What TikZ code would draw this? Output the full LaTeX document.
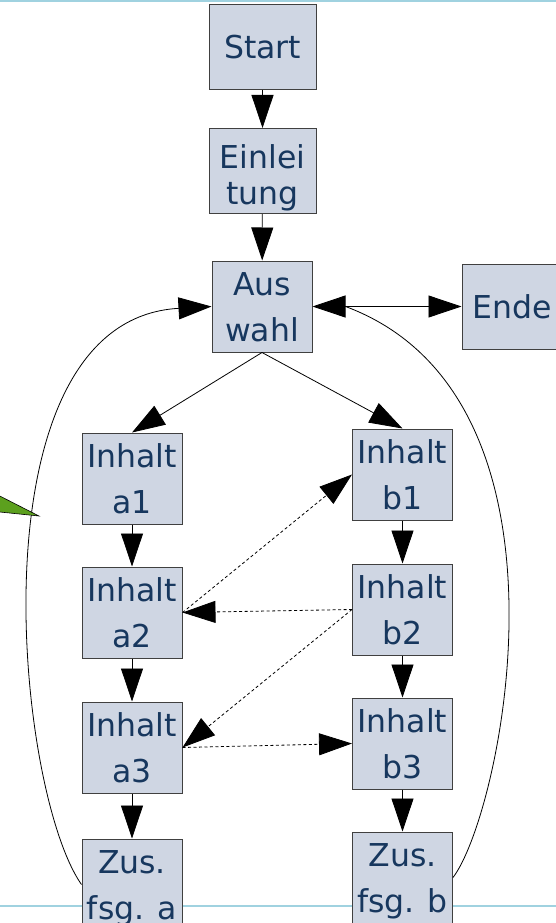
\documentclass[tikz,border=0pt]{standalone}
\usepackage{fontspec}
\setmainfont{DejaVu Sans}
\usetikzlibrary{arrows.meta}
\definecolor{boxfill}{HTML}{CFD6E3}
\definecolor{boxtext}{HTML}{17375E}
\definecolor{boxline}{HTML}{404040}
\definecolor{guide}{HTML}{A0D2E0}
\definecolor{tailgreen}{HTML}{5CA01E}
\newcommand\lnA{\rule[-11pt]{0pt}{45.5pt}}
\newcommand\lnB{\rule[-3pt]{0pt}{36pt}}
\newcommand\lnC{\rule[-3pt]{0pt}{40.4pt}}
\begin{document}
\begin{tikzpicture}[x=1pt,y=-1pt,
  box/.style={draw=boxline,line width=1pt,fill=boxfill,text=boxtext,
    minimum width=100pt,minimum height=85pt,inner sep=0pt,align=center,
    font=\fontsize{31.5}{45.5}\selectfont},
  widebox/.style={minimum width=107pt},
  conn/.style={line width=0.8pt,-{Triangle[length=33pt,width=22pt]}},
  dconn/.style={conn,dash pattern=on 3pt off 2.5pt},
  plain/.style={line width=0.8pt},
]
\useasboundingbox (0,0) rectangle (556,923);
% guide lines
\draw[guide,line width=2pt] (0,1) -- (556,1);
\draw[guide,line width=1.5pt] (0,906) -- (556,906);

% nodes
\node[box,widebox] (start) at (262.5,47) {\lnA Start};
\node[box,widebox,font=\fontsize{31.5}{36}\selectfont] (einl) at (262.5,171) {\lnC Einlei\\\lnB tung};
\node[box] (ausw) at (262,306.5) {\lnA Aus\\\lnA wahl};
\node[box] (ende) at (512,306.5) {\lnA Ende};
\node[box] (a1) at (132,478.5) {\lnA Inhalt\\\lnA a1};
\node[box] (a2) at (132,612.5) {\lnA Inhalt\\\lnA a2};
\node[box] (a3) at (132,747.5) {\lnA Inhalt\\\lnA a3};
\node[box] (za) at (132,884.5) {\lnA Zus.\\\lnA fsg. a};
\node[box] (b1) at (402.5,474.5) {\lnA Inhalt\\\lnA b1};
\node[box] (b2) at (402.5,609.5) {\lnA Inhalt\\\lnA b2};
\node[box] (b3) at (402.5,743.5) {\lnA Inhalt\\\lnA b3};
\node[box] (zb) at (402.5,877.5) {\lnA Zus.\\\lnA fsg. b};

% main connectors
\draw[conn] (start) -- (einl);
\draw[conn] (einl) -- (ausw);
\draw[line width=0.8pt,{Triangle[length=33pt,width=22pt]}-{Triangle[length=33pt,width=22pt]}] (ausw) -- (ende);
\draw[conn] (ausw.south) -- (a1.north);
\draw[conn] (ausw.south) -- (b1.north);
\draw[conn] (a1) -- (a2);
\draw[conn] (a2) -- (a3);
\draw[conn] (a3) -- (za);
\draw[conn] (b1) -- (b2);
\draw[conn] (b2) -- (b3);
\draw[conn] (b3) -- (zb);

% dashed cross links
\draw[dconn] (a2.east) -- (b1.west);
\draw[dconn] (b2.west) -- (a2.east);
\draw[dconn] (b2.west) -- (a3.east);
\draw[dconn] (a3.east) -- (b3.west);

% return loops
\draw[conn] (za.west) .. controls (15,790) and (-30,320) .. (ausw.west);
\draw[plain] (zb.east) .. controls (502,813) and (589,397) .. ([xshift=33pt]ausw.east);

% green callout tail
\draw[fill=tailgreen,line width=0.6pt,line join=miter] (-10,491) -- (39,516) -- (-10,511) -- cycle;
\end{tikzpicture}
\end{document}
